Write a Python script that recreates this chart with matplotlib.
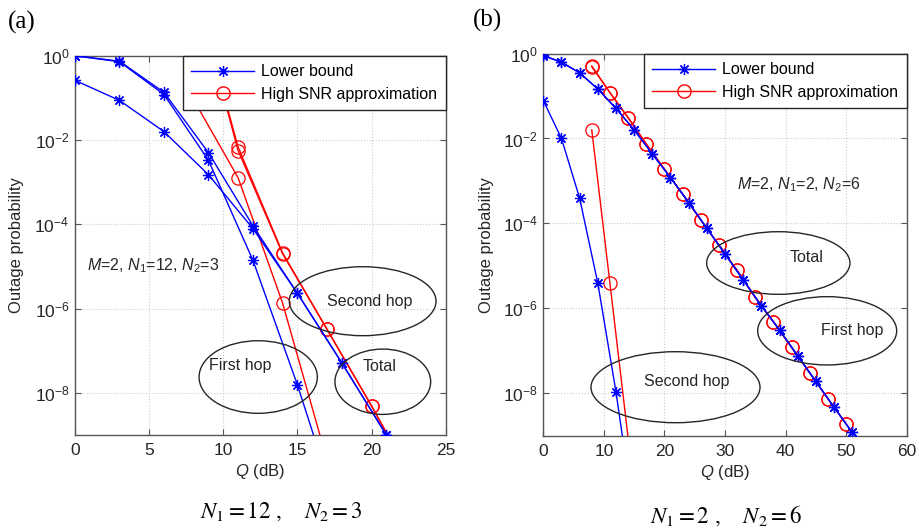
import matplotlib
matplotlib.use('Agg')
import matplotlib.pyplot as plt
from matplotlib.patches import Ellipse
from matplotlib.lines import Line2D

plt.rcParams['font.family'] = ['Liberation Sans', 'DejaVu Sans']
plt.rcParams['mathtext.fontset'] = 'custom'
plt.rcParams['mathtext.rm'] = 'Liberation Sans'
plt.rcParams['mathtext.it'] = 'Liberation Sans:italic'
plt.rcParams['mathtext.bf'] = 'Liberation Sans:bold'

# ---------------- data: panel (a)  M=2, N1=12, N2=3 ----------------
a_q_lb = [0, 3, 6, 9, 12, 15, 18, 21]
a_lb_first = [0.99, 0.72, 0.12, 3.3e-3, 1.4e-5, 1.55e-8, 8e-12, 4e-15]
a_lb_second = [0.26, 0.087, 0.0158, 1.5e-3, 7.9e-5, 2.3e-6, 5.1e-8, 1.0e-9]
a_lb_total = [1.0, 0.74, 0.135, 5.0e-3, 9.2e-5, 2.3e-6, 5.1e-8, 1.0e-9]

a_q_ap_first = [8, 11, 14, 17]
a_ap_first = [0.09, 1.27e-3, 1.35e-6, 2.5e-10]
a_q_ap = [8, 11, 14, 17, 20, 23]
a_ap_second = [50, 5.6e-3, 2.0e-5, 3.2e-7, 4.9e-9, 6e-11]
a_ap_total = [50, 6.8e-3, 2.1e-5, 3.2e-7, 4.9e-9, 6e-11]

# ---------------- data: panel (b)  M=2, N1=2, N2=6 ----------------
b_q_lb = [0, 3, 6, 9, 12, 15, 18, 21, 24, 27, 30, 33, 36, 39, 42, 45, 48, 51]
b_lb_first = [0.89, 0.62, 0.35, 0.146, 0.051, 0.016, 4.3e-3, 1.2e-3, 3.1e-4,
              7.7e-5, 1.9e-5, 4.7e-6, 1.15e-6, 3.1e-7, 7.6e-8, 1.9e-8, 4.7e-9, 1.2e-9]
b_lb_total = [0.90, 0.63, 0.35, 0.146, 0.051, 0.016, 4.3e-3, 1.2e-3, 3.1e-4,
              7.7e-5, 1.9e-5, 4.7e-6, 1.15e-6, 3.1e-7, 7.6e-8, 1.9e-8, 4.7e-9, 1.2e-9]
b_q_lb_second = [0, 3, 6, 9, 12, 15]
b_lb_second = [0.078, 0.010, 3.9e-4, 3.9e-6, 1.07e-8, 1.2e-11]

b_q_ap = [8, 11, 14, 17, 20, 23, 26, 29, 32, 35, 38, 41, 44, 47, 50]
b_ap_first = [0.49, 0.12, 0.031, 7.4e-3, 1.9e-3, 4.9e-4, 1.2e-4, 3.1e-5, 7.8e-6,
              1.8e-6, 4.8e-7, 1.2e-7, 3.0e-8, 7.4e-9, 1.9e-9]
b_ap_total = [0.51, 0.12, 0.031, 7.4e-3, 1.9e-3, 4.9e-4, 1.2e-4, 3.1e-5, 7.8e-6,
              1.8e-6, 4.8e-7, 1.2e-7, 3.0e-8, 7.4e-9, 1.9e-9]
b_q_ap_second = [8, 11, 14]
b_ap_second = [0.016, 3.9e-6, 9e-10]

legend_labels = ['Lower bound', 'High SNR approximation']
YLO, YHI = 1e-9, 1.0

BLUE = '#0000ff'
RED = '#ff0000'
DARK = '#262626'
AX = '#555555'
STAR = (8, 2, 0)
FS = 11.5
TFS = 12.5

fig = plt.figure(figsize=(9.19, 5.30), dpi=100)


def curve(ax, q, v, color, marker, ms, z):
    idx = [i for i, val in enumerate(v) if YLO * 0.999 <= val <= YHI * 1.001]
    ax.plot(q, v, '-', color=color, lw=1.0, marker=marker, ms=ms,
            mfc='none' if marker == 'o' else color, mec=color, mew=0.9,
            markevery=idx, zorder=z)


def setup(ax, xmax, xstep):
    ax.set_yscale('log')
    ax.set_xlim(0, xmax)
    ax.set_ylim(YLO, YHI)
    ax.set_xticks(range(0, xmax + 1, xstep))
    ax.set_yticks([1e0, 1e-2, 1e-4, 1e-6, 1e-8])
    ax.yaxis.set_minor_locator(matplotlib.ticker.NullLocator())
    ax.grid(True, which='major', color='#cccccc', ls=':', lw=0.8)
    ax.set_axisbelow(True)
    ax.tick_params(direction='in', top=True, right=True, length=4,
                   width=0.8, color=AX, labelsize=TFS, labelcolor=DARK)
    ax.tick_params(axis='x', pad=6)
    ax.tick_params(axis='y', pad=4)
    for s in ax.spines.values():
        s.set_color(AX)
        s.set_linewidth(1.0)
    ax.set_ylabel('Outage probability', fontsize=FS + 0.5, color=DARK)
    ax.set_xlabel(r'$Q$ (dB)', fontsize=FS + 0.5, color=DARK, va='center')
    handles = [Line2D([], [], color=BLUE, lw=1.0, marker=STAR, ms=8, mec=BLUE, mew=0.9),
               Line2D([], [], color=RED, lw=1.0, marker='o', ms=9.5, mfc='none', mec=RED)]
    leg = ax.legend(handles, legend_labels, loc='upper right', borderaxespad=0,
                    fancybox=False, framealpha=1, edgecolor=DARK, fontsize=FS,
                    handlelength=3.9, handletextpad=0.45, borderpad=0.55,
                    labelspacing=0.45)
    leg.get_frame().set_linewidth(1.0)
    leg.set_zorder(10)


def ellipse(ax, cx, cy, w, h):
    ax.add_patch(Ellipse((cx, cy), w, h, transform=ax.transAxes, fill=False,
                         ec=DARK, lw=1.0, zorder=6))


# ---------------- panel (a) ----------------
axa = fig.add_axes([0.0816, 0.1792, 0.4034, 0.7157])
curve(axa, a_q_ap_first, a_ap_first, RED, 'o', 9.5, 3)
curve(axa, a_q_ap, a_ap_second, RED, 'o', 9.5, 3)
curve(axa, a_q_ap, a_ap_total, RED, 'o', 9.5, 3)
curve(axa, a_q_lb, a_lb_first, BLUE, STAR, 8, 4)
curve(axa, a_q_lb, a_lb_second, BLUE, STAR, 8, 4)
curve(axa, a_q_lb, a_lb_total, BLUE, STAR, 8, 4)
setup(axa, 25, 5)
axa.yaxis.set_label_coords(-0.1376, 0.5)
axa.xaxis.set_label_coords(0.5, -0.097)

ellipse(axa, 0.776, 0.3528, 0.3957, 0.1819)
ellipse(axa, 0.4942, 0.1529, 0.3191, 0.1914)
ellipse(axa, 0.8303, 0.1405, 0.2582, 0.1722)
axa.text(0.7958, 0.3514, 'Second hop', transform=axa.transAxes, ha='center', va='center', fontsize=FS, color=DARK, zorder=7)
axa.text(0.4451, 0.1846, 'First hop', transform=axa.transAxes, ha='center', va='center', fontsize=FS, color=DARK, zorder=7)
axa.text(0.8228, 0.1819, 'Total', transform=axa.transAxes, ha='center', va='center', fontsize=FS, color=DARK, zorder=7)
axa.text(0.033, 0.433, r'$M$=2, $N_1$=12, $N_2$=3', transform=axa.transAxes,
         ha='left', va='baseline', fontsize=FS, color=DARK, zorder=7)

# ---------------- panel (b) ----------------
axb = fig.add_axes([0.5912, 0.1779, 0.3954, 0.7211])
curve(axb, b_q_ap, b_ap_first, RED, 'o', 9.5, 3)
curve(axb, b_q_ap, b_ap_total, RED, 'o', 9.5, 3)
curve(axb, b_q_ap_second, b_ap_second, RED, 'o', 9.5, 3)
curve(axb, b_q_lb, b_lb_first, BLUE, STAR, 8, 4)
curve(axb, b_q_lb, b_lb_total, BLUE, STAR, 8, 4)
curve(axb, b_q_lb_second, b_lb_second, BLUE, STAR, 8, 4)
setup(axb, 60, 10)
axb.yaxis.set_label_coords(-0.1357, 0.5)
axb.xaxis.set_label_coords(0.5, -0.097)

ellipse(axb, 0.6467, 0.4519, 0.3943, 0.1638)
ellipse(axb, 0.7812, 0.2745, 0.3825, 0.1787)
ellipse(axb, 0.3638, 0.1269, 0.4651, 0.1858)
axb.text(0.7248, 0.4668, 'Total', transform=axb.transAxes, ha='center', va='center', fontsize=FS, color=DARK, zorder=7)
axb.text(0.8503, 0.2766, 'First hop', transform=axb.transAxes, ha='center', va='center', fontsize=FS, color=DARK, zorder=7)
axb.text(0.3946, 0.1413, 'Second hop', transform=axb.transAxes, ha='center', va='center', fontsize=FS, color=DARK, zorder=7)
axb.text(0.532, 0.6447, r'$M$=2, $N_1$=2, $N_2$=6', transform=axb.transAxes,
         ha='left', va='baseline', fontsize=FS, color=DARK, zorder=7)

# ---------------- panel labels and captions ----------------
fig.text(8 / 919, 1 - 22 / 530, '(a)', family='Liberation Serif', fontsize=18, va='center', ha='left')
fig.text(473 / 919, 1 - 20 / 530, '(b)', family='Liberation Serif', fontsize=18, va='center', ha='left')
fig.text(281.7 / 919, 1 - 512 / 530, r'$N_1=12$ ,    $N_2=3$', math_fontfamily='stix',
         family='STIXGeneral', fontsize=16.5, ha='center', va='center')
fig.text(726 / 919, 1 - 516 / 530, r'$N_1=2$ ,    $N_2=6$', math_fontfamily='stix',
         family='STIXGeneral', fontsize=16.5, ha='center', va='center')

fig.savefig('out.png', dpi=100)
